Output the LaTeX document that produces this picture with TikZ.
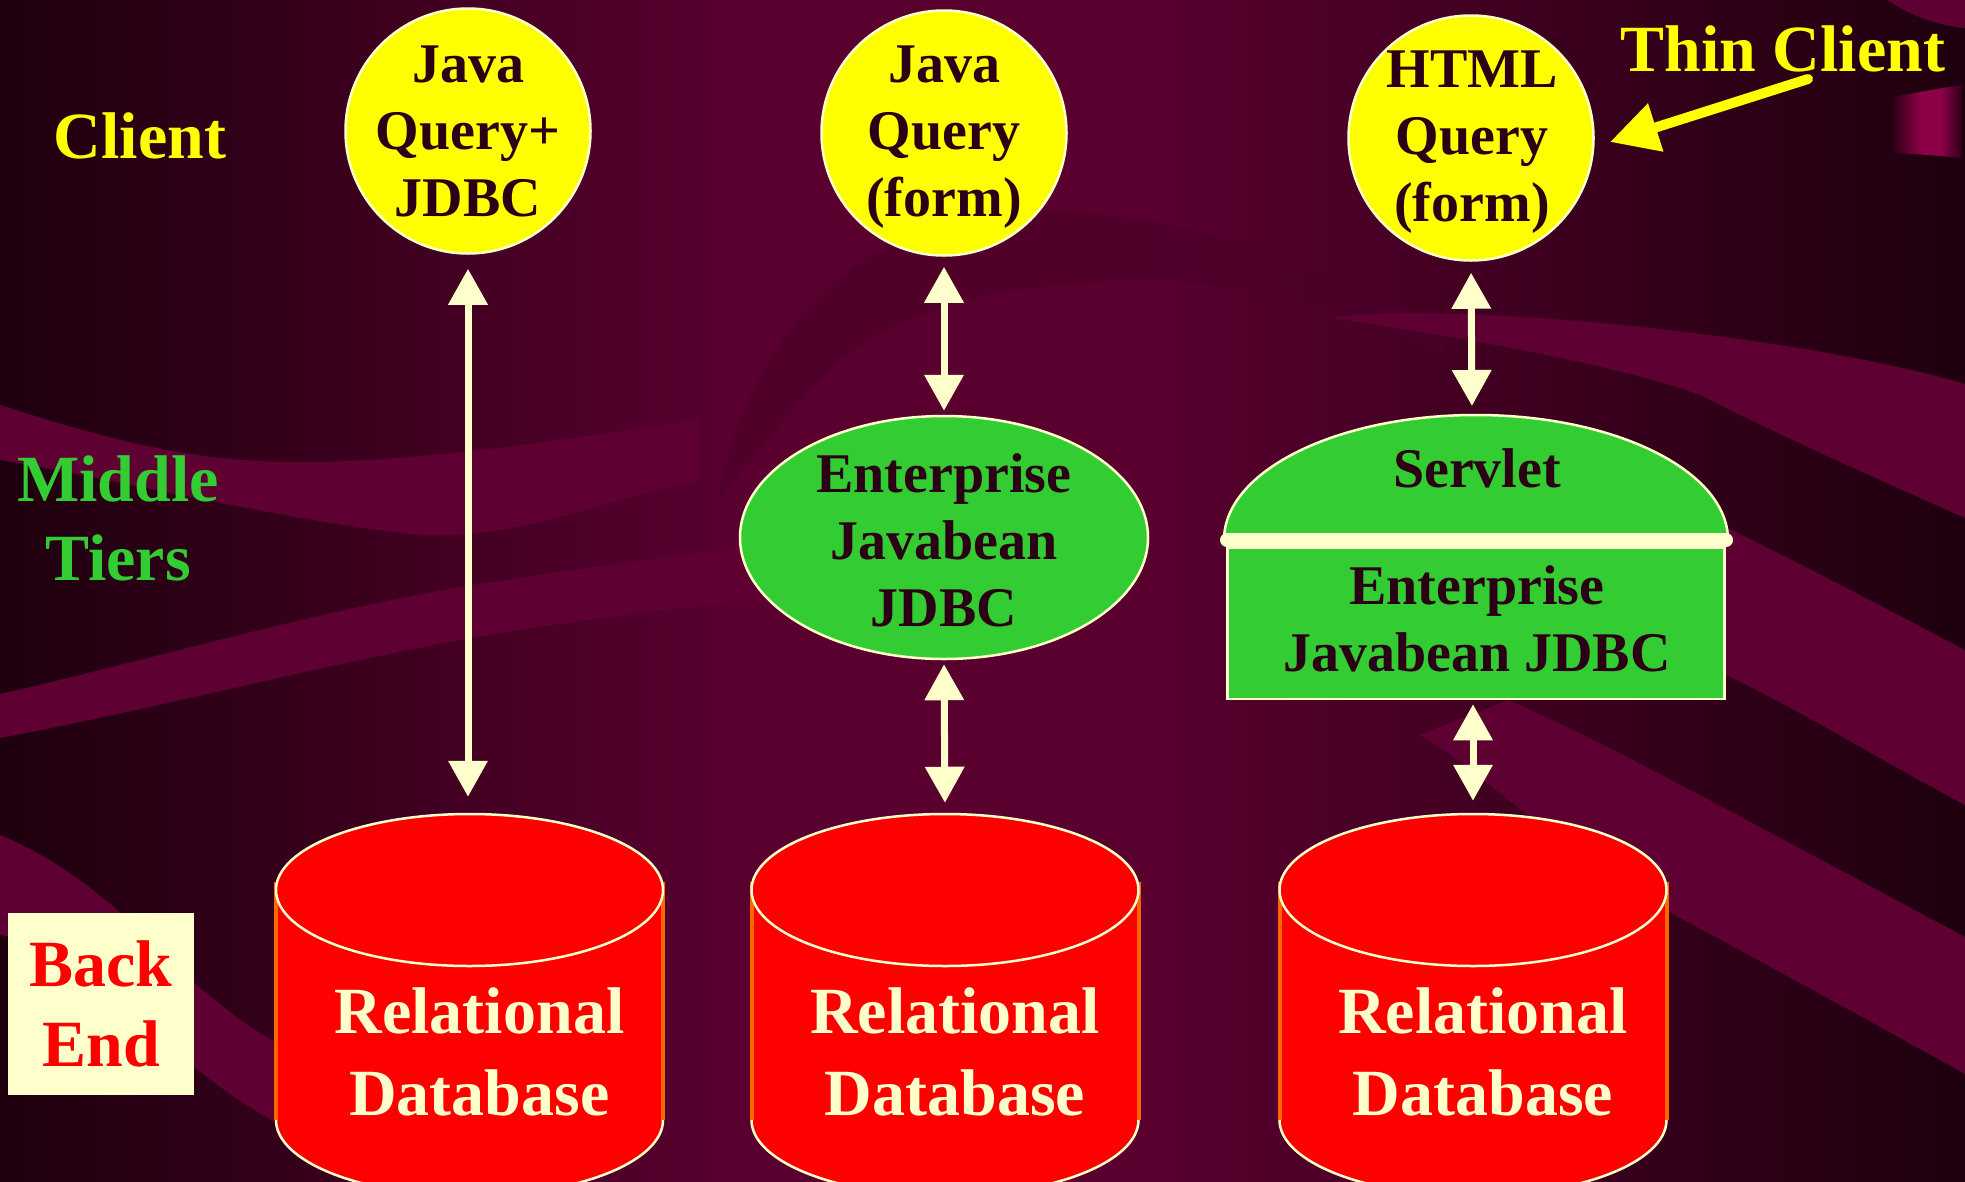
\documentclass[tikz,border=0pt]{standalone}
\usepackage{fontspec}
\setmainfont{Liberation Serif}
\usetikzlibrary{shapes.geometric,arrows.meta}

\definecolor{bgdark}{HTML}{1E000E}
\definecolor{bgmid}{HTML}{5A002F}
\definecolor{band}{HTML}{5E0032}
\definecolor{archdark}{HTML}{4C0028}
\definecolor{cream}{HTML}{FFFFCC}
\definecolor{clientyellow}{HTML}{FFFF00}
\definecolor{tiergreen}{HTML}{33CC33}
\definecolor{dbred}{HTML}{FF0000}
\definecolor{dbside}{HTML}{FF6600}
\definecolor{inktext}{HTML}{2B0014}
\definecolor{barmid}{HTML}{8C0046}
\definecolor{baredge}{HTML}{2E0018}

% backdrop: dark at both sides, maroon in the middle
\pgfdeclarehorizontalshading{backdrop}{100bp}{color(0bp)=(bgdark); color(25bp)=(bgdark); color(44bp)=(bgmid); color(54bp)=(bgmid); color(75bp)=(bgdark); color(100bp)=(bgdark)}
\pgfdeclarehorizontalshading{glowbar}{100bp}{color(0bp)=(baredge); color(25bp)=(baredge); color(45bp)=(barmid); color(60bp)=(barmid); color(75bp)=(baredge); color(100bp)=(baredge)}

\begin{document}
\begin{tikzpicture}[x=1pt, y=-1pt,
  clientdisc/.style={ellipse, draw=cream, line width=2.5pt, fill=clientyellow, inner sep=0pt, minimum width=245pt, minimum height=245pt},
  tierdisc/.style={ellipse, draw=cream, line width=2.5pt, fill=tiergreen, inner sep=0pt, minimum width=408pt, minimum height=243pt},
  inktxt/.style={text=inktext, align=center, inner sep=0pt, font=\fontsize{56}{67}\selectfont\bfseries},
  beanbox/.style={rectangle, draw=cream, line width=2.5pt, fill=tiergreen, inner sep=0pt, minimum width=497pt, minimum height=151pt},
  dbtop/.style={ellipse, draw=cream, line width=2.5pt, fill=dbred, inner sep=0pt, minimum width=387pt, minimum height=152pt},
  dbtext/.style={text=cream, align=center, inner sep=0pt, font=\fontsize{66}{82}\selectfont\bfseries},
  tierlabel/.style={align=center, inner sep=0pt, font=\fontsize{66}{79}\selectfont\bfseries},
  backbox/.style={fill=cream, text=dbred, minimum width=186pt, minimum height=182pt, inner sep=0pt, align=center, font=\fontsize{66}{80}\selectfont\bfseries},
  link/.style={draw=cream, line width=7pt, {Triangle[width=38pt,length=36pt]}-{Triangle[width=38pt,length=36pt]}},
  pointer/.style={draw=clientyellow, line width=10pt, line cap=round, -{Triangle[width=48pt,length=48pt]}}
]
\useasboundingbox (0,0) rectangle (1965,1181);
\begin{scope}
\clip (0,0) rectangle (1965,1181);

% ---- backdrop and swooshes ----
\shade[shading=backdrop] (0,0) rectangle (1965,1181);
\fill[archdark, opacity=0.6] (718,500) .. controls (750,330) and (860,225) .. (1000,212)
   .. controls (1150,200) and (1320,260) .. (1450,333) -- (1440,352)
   .. controls (1330,300) and (1180,270) .. (1090,283)
   .. controls (950,290) and (860,330) .. (807,393) -- cycle;
\fill[band] (0,405) .. controls (110,440) and (190,462) .. (300,462)
   .. controls (420,462) and (560,440) .. (700,420) -- (700,480)
   .. controls (600,500) and (520,540) .. (420,535)
   .. controls (280,520) and (120,480) .. (0,460) -- cycle;
\fill[band] (0,694) .. controls (150,660) and (300,615) .. (460,587)
   .. controls (600,565) and (750,545) .. (900,530) -- (900,585)
   .. controls (750,600) and (600,615) .. (460,640)
   .. controls (300,670) and (150,710) .. (0,738) -- cycle;
\fill[band] (0,835) .. controls (60,860) and (110,900) .. (160,950)
   .. controls (210,1000) and (250,1030) .. (290,1050) -- (290,1130)
   .. controls (230,1100) and (170,1050) .. (120,1000)
   .. controls (80,960) and (40,940) .. (0,935) -- cycle;
\fill[band] (1330,318) .. controls (1450,300) and (1800,335) .. (1965,384) -- (1965,518)
   .. controls (1880,480) and (1800,445) .. (1700,395)
   .. controls (1620,365) and (1450,335) .. (1330,318) -- cycle;
\fill[band] (1600,470) .. controls (1720,520) and (1850,590) .. (1965,650) -- (1965,805)
   .. controls (1880,760) and (1800,710) .. (1724,674)
   .. controls (1680,650) and (1640,620) .. (1600,600) -- cycle;
\fill[band] (1508,700) .. controls (1600,740) and (1700,795) .. (1965,937) -- (1965,1074)
   .. controls (1850,1010) and (1740,950) .. (1660,907)
   .. controls (1560,850) and (1480,770) .. (1420,735) -- cycle;
\fill[band] (1887,0) .. controls (1910,15) and (1935,25) .. (1965,28) -- (1965,0) -- cycle;
\shade[shading=glowbar] (1893,97) .. controls (1920,92) and (1940,88) .. (1962,85)
   -- (1962,158) .. controls (1940,156) and (1920,154) .. (1893,153) -- cycle;

% ---- back-end databases ----
\foreach \n/\cx in {1/469.5, 2/945, 3/1473} {
  \fill[dbred] (\cx-193.5,890) -- (\cx-193.5,1120)
     arc[start angle=180, end angle=0, x radius=193.5, y radius=76] -- (\cx+193.5,890) -- cycle;
  \draw[cream, line width=2.5pt] (\cx-193.5,1120)
     arc[start angle=180, end angle=0, x radius=193.5, y radius=76];
  \draw[dbside, line width=4pt] (\cx-193.5,882) -- (\cx-193.5,1120)
     (\cx+193.5,882) -- (\cx+193.5,1120);
  \node[dbtop] (db\n) at (\cx,890) {};
  \node[dbtext] (dbt\n) at (\cx+10,1052) {Relational\\Database};
}

% ---- clients ----
\node[clientdisc] (c1) at (468,131) {};
\node[inktxt] (c1t) at (468,131) {Java\\Query+\\JDBC};
\node[clientdisc] (c2) at (944,133) {};
\node[inktxt] (c2t) at (944,137) {Java\\Query\\(form)};
\node[clientdisc] (c3) at (1471,138) {};
\node[inktxt] (c3t) at (1472,142) {HTML\\Query\\(form)};

% ---- middle tier: enterprise bean ----
\node[tierdisc] (e2) at (944,537.5) {};
\node[inktxt] (e2t) at (944,540) {Enterprise\\Javabean\\JDBC};

% ---- middle tier: servlet over enterprise bean ----
\fill[tiergreen, draw=cream, line width=2.5pt] (1224,540)
   arc[start angle=180, end angle=360, x radius=252, y radius=125] -- cycle;
\coordinate (domeTop) at (1472,415);
\node[inktxt, anchor=base] (svt) at (1477,487) {Servlet};
\node[beanbox] (sv) at (1476,623.5) {};
\node[inktxt] (svb) at (1477,619) {Enterprise\\Javabean JDBC};
\draw[cream, line width=14pt, line cap=round] (1227,540) -- (1726,540);

% ---- connectors ----
\draw[link, shorten <=14pt, shorten >=16pt] (c1.south) -- (c1.south |- db1.north);
\draw[link, shorten <=10pt, shorten >=4pt] (c2.south) -- (e2.north);
\draw[link, shorten <=4pt, shorten >=10pt] (e2.south) -- (db2.north);
\draw[link, shorten <=11pt, shorten >=9pt] (c3.south) -- (domeTop);
\draw[link, shorten <=4pt, shorten >=12pt] (sv.south -| db3.north) -- (db3.north);

% ---- tier labels ----
\node[tierlabel, text=clientyellow, anchor=base] (lclient) at (140,158) {Client};
\node[tierlabel, text=tiergreen] (lmiddle) at (118,518) {Middle\\Tiers};
\node[backbox] (lback) at (101,1004) {Back\\End};
\node[tierlabel, text=clientyellow, anchor=base] (lthin) at (1783,71) {Thin Client};
\coordinate (tcTail) at (1808,79);
\coordinate (tcTip) at (1610,142);
\draw[pointer] (tcTail) -- (tcTip);
\end{scope}
\end{tikzpicture}
\end{document}
